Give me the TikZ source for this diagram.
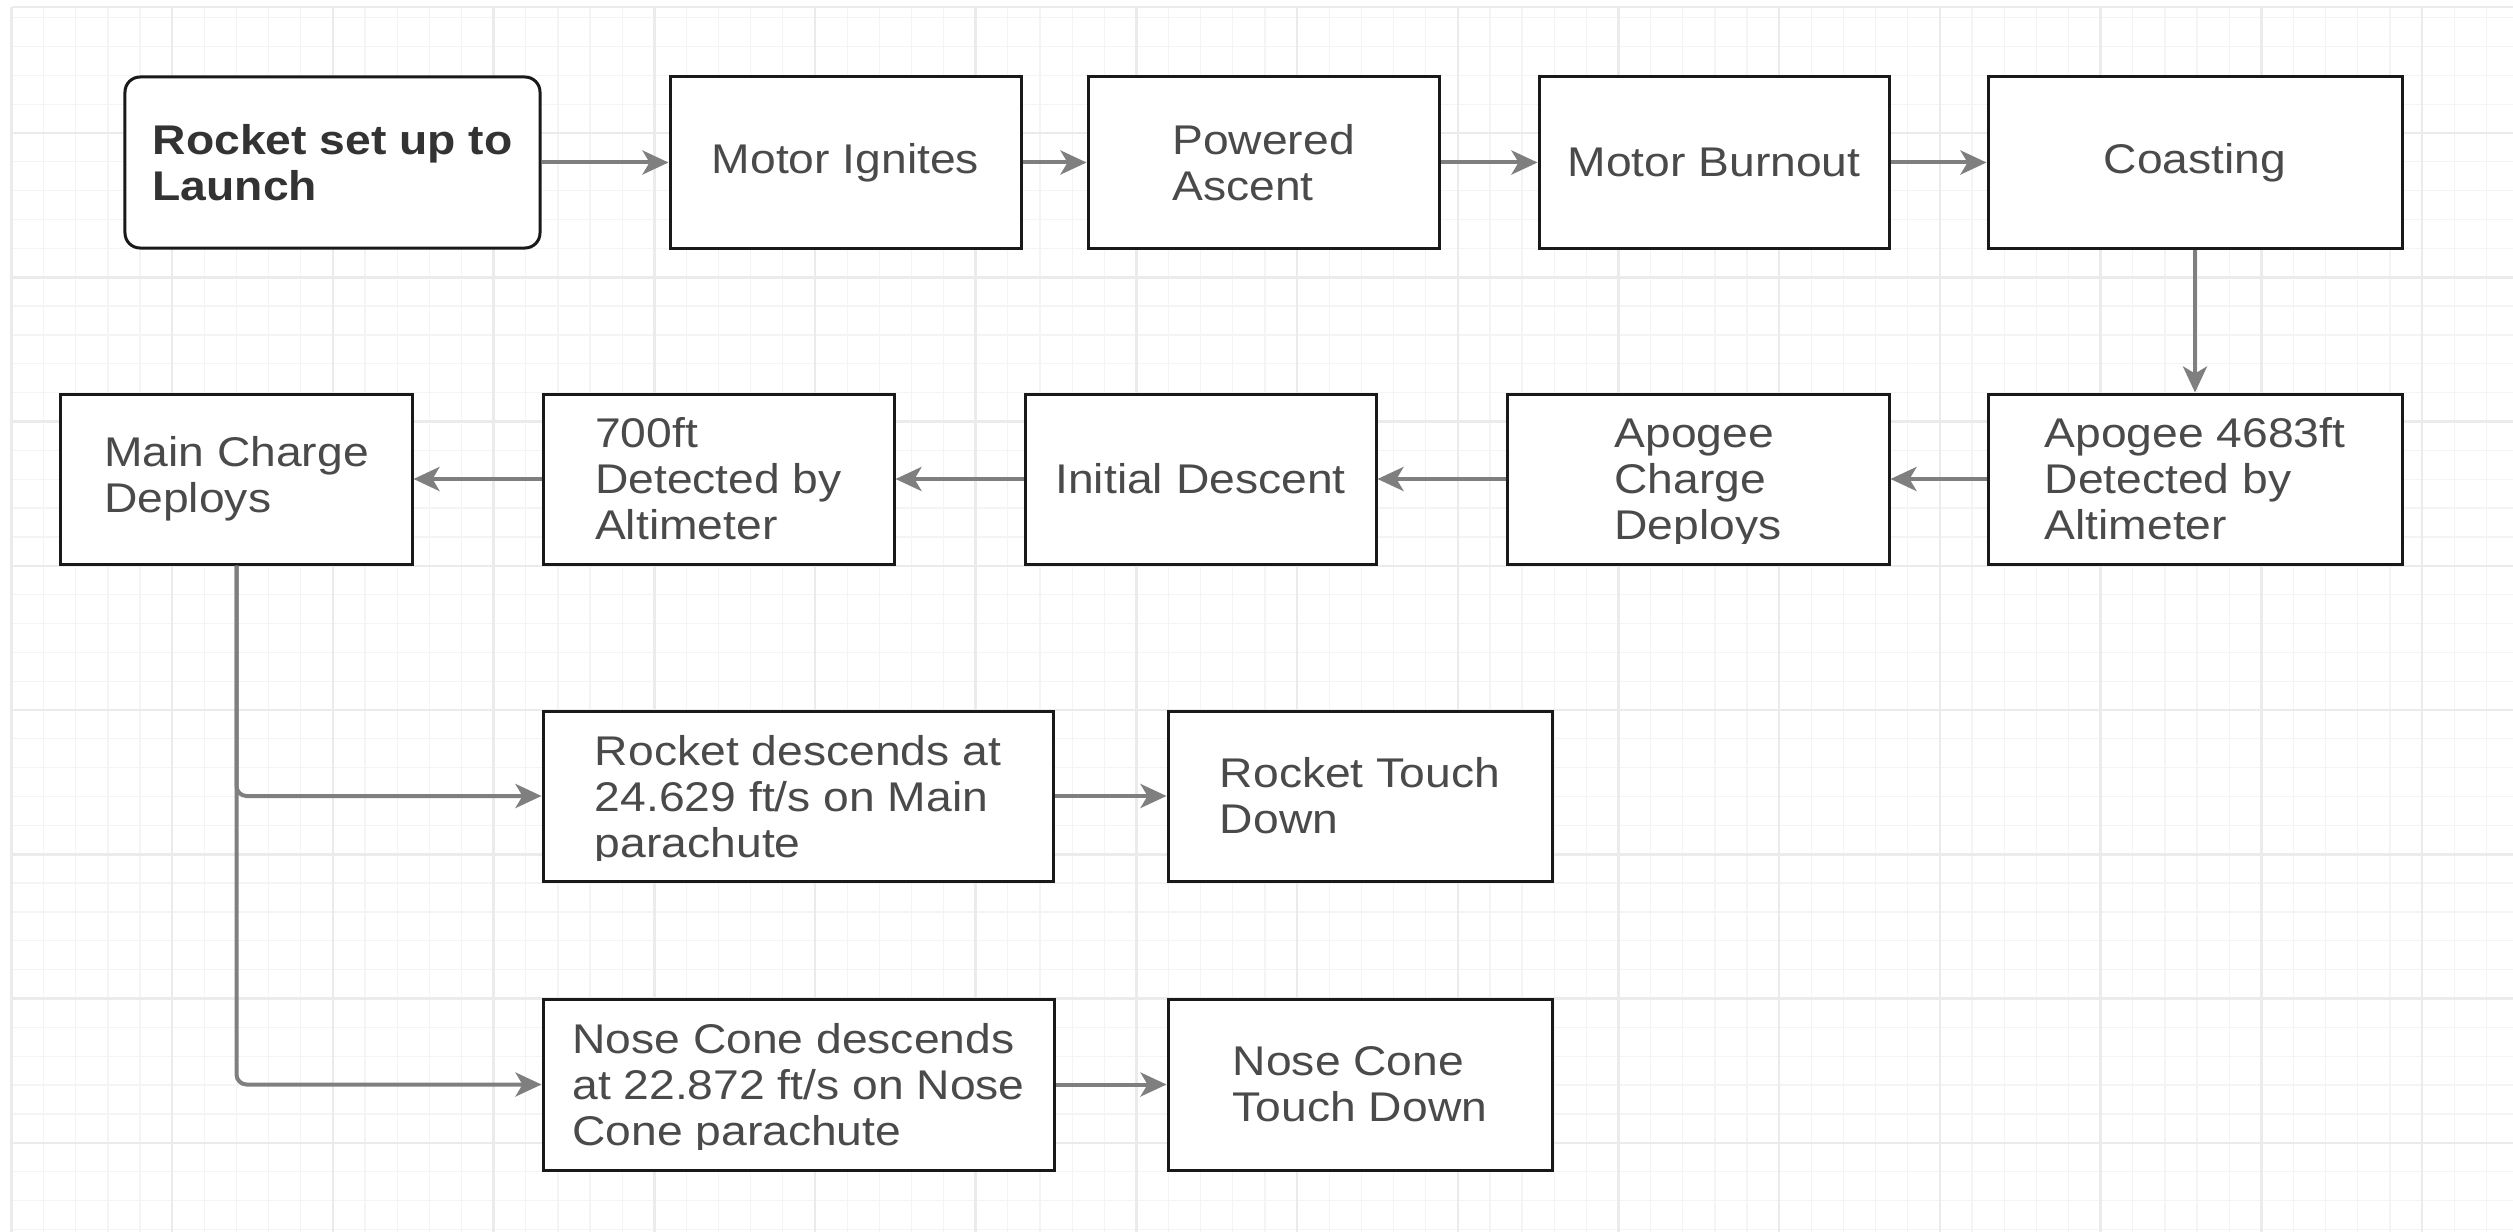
\documentclass[tikz,border=0pt]{standalone}
\usepackage{fontspec}
\newfontfamily\dfont[FakeStretch=1.114]{Liberation Sans}
\usetikzlibrary{arrows.meta}
\definecolor{gridmaj}{HTML}{EBEBEB}
\definecolor{gridmin}{HTML}{F4F4F4}
\definecolor{arrowgray}{HTML}{7F7F7F}
\definecolor{txtgray}{HTML}{4A4A4A}
\definecolor{txtbold}{HTML}{333333}
\begin{document}
\begin{tikzpicture}[x=0.4pt,y=-0.4pt,
  txt/.style={inner sep=0pt, align=left, text=txtgray, font={\dfont\fontsize{16.6pt}{18.4pt}\selectfont}},
  box/.style={txt, draw=black!90, line width=1.2pt, fill=white, rectangle, minimum height=68pt},
  boldbox/.style={box, text=txtbold, font={\dfont\bfseries\fontsize{16.6pt}{18.4pt}\selectfont}, rounded corners=6pt},
  arr/.style={draw=arrowgray, line width=1.6pt, -{Stealth[length=10.4pt,width=9.6pt,inset=2.8pt]}},
  gmin/.style={draw=gridmin, line width=0.5pt},
  gmaj/.style={draw=gridmaj, line width=1pt}
]
\useasboundingbox (0,0) rectangle (2513,1232);
\fill[white] (0,0) rectangle (2513,1232);
% grid
\foreach \i in {0,...,77} \draw[gmin] ({11.5+\i*32.14},7) -- ({11.5+\i*32.14},1232);
\foreach \j in {1,...,43} \draw[gmin] (11.5,{-11.25+\j*28.85}) -- (2513,{-11.25+\j*28.85});
\foreach \i in {0,...,15} \draw[gmaj] ({11.5+\i*160.7},7) -- ({11.5+\i*160.7},1232);
\foreach \j in {1,...,8} \draw[gmaj] (11.5,{-11.25+\j*144.25}) -- (2513,{-11.25+\j*144.25});
\draw[gmaj] (11.5,7) -- (2513,7);

% row 1
\node[boldbox, minimum width=166pt, minimum height=68.4pt] (b1) at (332.5,162.5) {Rocket set up to\\Launch};
\node[box, minimum width=140.4pt, minimum height=68.4pt] (b2) at (845.5,162.5) {Motor Ignites};
\node[box, minimum width=140.4pt, minimum height=68.4pt] (b3) at (1263.5,162.5) {Powered\\Ascent};
\node[box, minimum width=140pt, minimum height=68.4pt] (b4) at (1714,162.5) {Motor Burnout};
\node[box, minimum width=165.6pt, minimum height=68.4pt] (b5) at (2195,162.5) {Coasting};

% row 2
\node[box, minimum width=165.6pt] (c5) at (2195,479) {Apogee 4683ft\\Detected by\\Altimeter};
\node[box, minimum width=152.8pt] (c4) at (1698,479) {};
\begin{scope}
  \clip (c4.north west) rectangle ([yshift=8.8pt]c4.south east);
  \node[txt, text depth=0pt] (c4t) at (c4.center) {Apogee\\Charge\\Deploys};
\end{scope}
\node[box, minimum width=140.4pt] (c3) at (1200.5,479) {Initial Descent};
\node[box, minimum width=140.4pt] (c2) at (718.5,479) {700ft\\Detected by\\Altimeter};
\node[box, minimum width=140.4pt] (c1) at (236.5,479) {Main Charge\\Deploys};

% row 3
\node[box, minimum width=204pt] (d1) at (798,796) {};
\begin{scope}
  \clip (d1.north west) rectangle ([yshift=8.8pt]d1.south east);
  \node[txt, text depth=0pt] (d1t) at (d1.center) {Rocket descends at\\24.629 ft/s on Main\\parachute};
\end{scope}
\node[box, minimum width=153.6pt] (d2) at (1360,796) {Rocket Touch\\Down};

% row 4
\node[box, minimum width=204.4pt, minimum height=68.4pt] (e1) at (798.5,1084.5) {};
\begin{scope}
  \clip (e1.north west) rectangle ([yshift=8.8pt]e1.south east);
  \node[txt, text depth=0pt] (e1t) at (e1.center) {Nose Cone descends\\at 22.872 ft/s on Nose\\Cone parachute};
\end{scope}
\node[box, minimum width=153.6pt, minimum height=68.4pt] (e2) at (1360,1084.5) {Nose Cone\\Touch Down};

% connectors
\draw[arr] (b1.east) -- (b2.west);
\draw[arr] (b2.east) -- (b3.west);
\draw[arr] (b3.east) -- (b4.west);
\draw[arr] (b4.east) -- (b5.west);
\draw[arr] (b5.south) -- (c5.north);
\draw[arr] (c5.west) -- (c4.east);
\draw[arr] (c4.west) -- (c3.east);
\draw[arr] (c3.west) -- (c2.east);
\draw[arr] (c2.west) -- (c1.east);
\draw[arr, rounded corners=4pt] (c1.south) |- (d1.west);
\draw[arr, rounded corners=4pt] (c1.south) |- (e1.west);
\draw[arr] (d1.east) -- (d2.west);
\draw[arr] (e1.east) -- (e2.west);
\end{tikzpicture}
\end{document}
